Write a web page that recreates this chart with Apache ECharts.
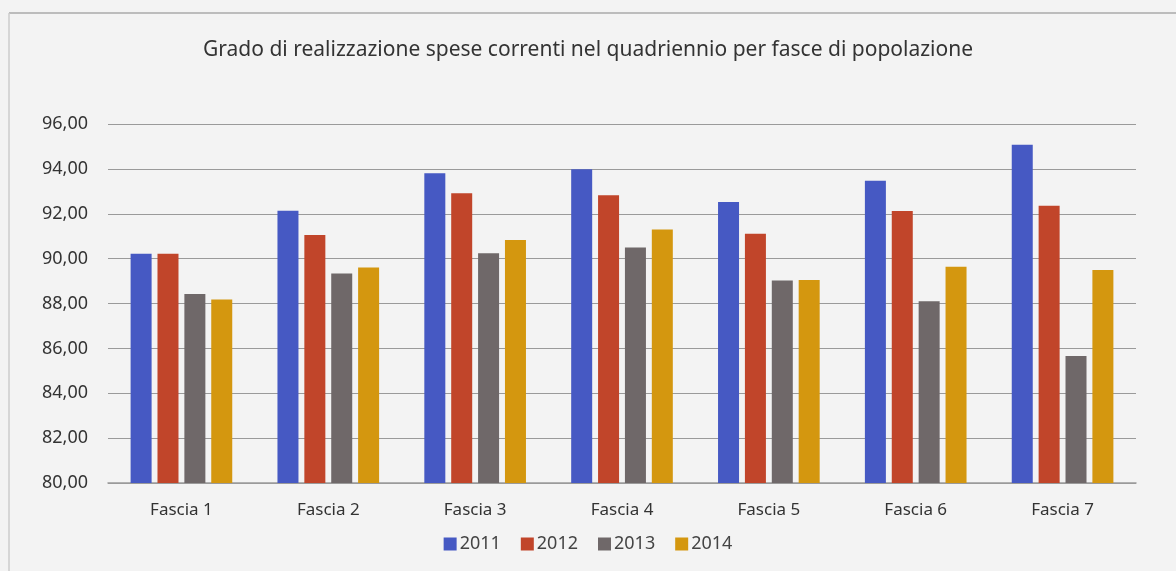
<!DOCTYPE html>
<html>
<head>
<meta charset="utf-8">
<script src="https://cdn.jsdelivr.net/npm/echarts@6/dist/echarts.min.js"></script>
<style>
html,body{margin:0;padding:0;background:#f3f3f3;}
#c{width:1176px;height:571px;}
</style>
</head>
<body>
<div id="c"></div>
<script>
const categories = ['Fascia 1','Fascia 2','Fascia 3','Fascia 4','Fascia 5','Fascia 6','Fascia 7'];
const years = ['2011','2012','2013','2014'];
const v2011 = [90.22, 92.13, 93.80, 93.98, 92.52, 93.47, 95.08];
const v2012 = [90.22, 91.05, 92.91, 92.83, 91.11, 92.12, 92.36];
const v2013 = [88.42, 89.34, 90.24, 90.50, 89.03, 88.10, 85.66];
const v2014 = [88.18, 89.60, 90.83, 91.30, 89.05, 89.64, 89.49];
const yTicks = [80,82,84,86,88,90,92,94,96];
const colors = ['#4659c3','#c1452a','#6f6869','#d4970f'];

const chart = echarts.init(document.getElementById('c'));
const font = 'Noto Sans';
const seriesData = [v2011, v2012, v2013, v2014];
chart.setOption({
  backgroundColor: '#f3f3f3',
  animation: false,
  color: colors,
  title: {
    text: 'Grado di realizzazione spese correnti nel quadriennio per fasce di popolazione',
    left: 'center', top: 35,
    textStyle: {fontFamily: font, fontSize: 21, fontWeight: 'normal', color: '#333'}
  },
  legend: {
    data: years, bottom: 13, left: 'center',
    itemWidth: 13, itemHeight: 13, itemGap: 20,
    icon: 'rect',
    textStyle: {fontFamily: font, fontSize: 18, color: '#444', padding:[0,0,0,-2]}
  },
  graphic: [
    {type:'line', shape:{x1:9,y1:13,x2:1176,y2:13}, style:{stroke:'#aaa',lineWidth:1.5}},
    {type:'line', shape:{x1:9,y1:13,x2:9,y2:571}, style:{stroke:'#ccc',lineWidth:1.5}}
  ],
  grid: {left: 108, right: 40, top: 124, bottom: 88},
  xAxis: {
    type: 'category', data: categories,
    axisLine: {lineStyle: {color: '#9a9a9a', width: 1.5}},
    axisTick: {show: false},
    axisLabel: {fontFamily: font, fontSize: 17, color: '#333', margin: 19}
  },
  yAxis: {
    type: 'value', min: 80, max: 96, interval: 2,
    axisLine: {show: false}, axisTick: {show: false},
    splitLine: {lineStyle: {color: '#9a9a9a', width: 1.2}},
    axisLabel: {fontFamily: font, fontSize: 18, color: '#333', margin: 20,
      formatter: v => yTicks.includes(v) ? v.toFixed(2).replace('.', ',') : ''}
  },
  series: years.map((y, i) => ({
    name: y, type: 'bar', data: seriesData[i],
    barWidth: 21, barGap: '28%'
  }))
});
</script>
</body>
</html>
